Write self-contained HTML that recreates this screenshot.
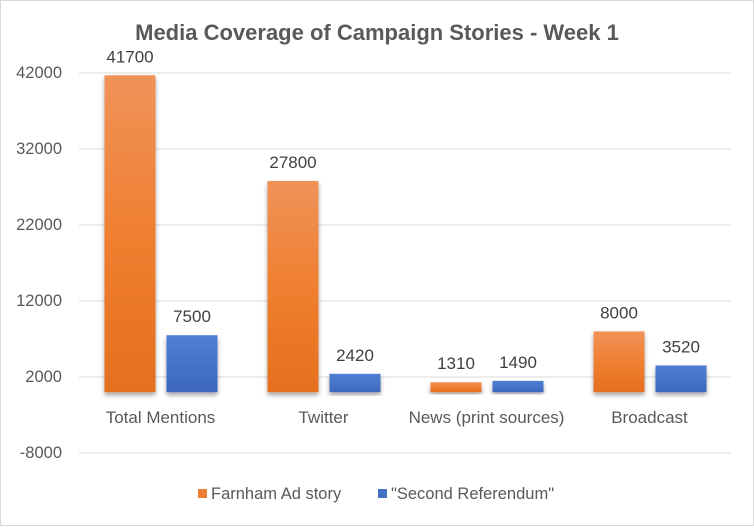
<!DOCTYPE html>
<html><head><meta charset="utf-8"><style>
body{margin:0;background:#fff}
svg text{font-family:"Liberation Sans",Calibri,sans-serif}
</style></head><body>
<svg width="754" height="526" xmlns="http://www.w3.org/2000/svg">
<defs>
<linearGradient id="go" x1="0" y1="0" x2="0" y2="1"><stop offset="0" stop-color="#f0935a"/><stop offset="0.5" stop-color="#f07f30"/><stop offset="1" stop-color="#e4701f"/></linearGradient>
<linearGradient id="gb" x1="0" y1="0" x2="0" y2="1"><stop offset="0" stop-color="#4f7fd4"/><stop offset="1" stop-color="#3d68bb"/></linearGradient>
<filter id="sh" x="-20%" y="-10%" width="140%" height="130%"><feDropShadow dx="0" dy="3" stdDeviation="2.5" flood-color="#000" flood-opacity="0.35"/></filter>
</defs>
<rect x="0.5" y="0.5" width="753" height="525" fill="#fff" stroke="#d9d9d9"/>
<text x="377" y="40" text-anchor="middle" font-size="22" font-weight="bold" fill="#595959">Media Coverage of Campaign Stories - Week 1</text>
<g id="grid"></g><g id="bars"></g>
<g>
<rect x="198" y="489" width="9" height="9" fill="#ed7d31"/>
<text x="211" y="499" font-size="16.5" fill="#595959">Farnham Ad story</text>
<rect x="378" y="489" width="9" height="9" fill="#4472c4"/>
<text x="391" y="499" font-size="16.5" fill="#595959">"Second Referendum"</text>
</g>
</svg>
<script>
const categories=["Total Mentions","Twitter","News (print sources)","Broadcast"];
const farnham=[41700,27800,1310,8000];
const referendum=[7500,2420,1490,3520];
const ticks=[-8000,2000,12000,22000,32000,42000];
const NS="http://www.w3.org/2000/svg";
const y=v=>392.2-v*0.0076;
const x0=79,cw=163;
function mk(t,a,p,txt){const e=document.createElementNS(NS,t);for(const k in a)e.setAttribute(k,a[k]);if(txt!=null)e.textContent=txt;p.appendChild(e);return e;}
const g=document.getElementById('grid'),b=document.getElementById('bars');
ticks.forEach(t=>{
 const l=mk('line',{x1:x0,x2:731,y1:y(t),y2:y(t),stroke:'#d9d9d9','stroke-width':1},g);
 
 
 const tx=mk('text',{x:62,y:y(t)+5,'text-anchor':'end','font-size':16.5,fill:'#595959'},g,String(t));
 
 
});
categories.forEach((c,i)=>{
 const cx=x0+cw*i+cw/2;
 [[farnham[i],'url(#go)',cx-56,'bar-farnham'],[referendum[i],'url(#gb)',cx+6,'bar-referendum']].forEach(([v,f,bx,n])=>{
  const r=mk('rect',{x:bx,y:y(v),width:51,height:y(0)-y(v),fill:f,filter:'url(#sh)'},b);
  
  
  const lb=mk('text',{x:bx+25.5,y:y(v)-13,'text-anchor':'middle','font-size':17,fill:'#404040'},b,String(v));
  
  
 });
 const ct=mk('text',{x:cx,y:423,'text-anchor':'middle','font-size':17,fill:'#595959'},b,c);
 
 
});
</script>
</body></html>
